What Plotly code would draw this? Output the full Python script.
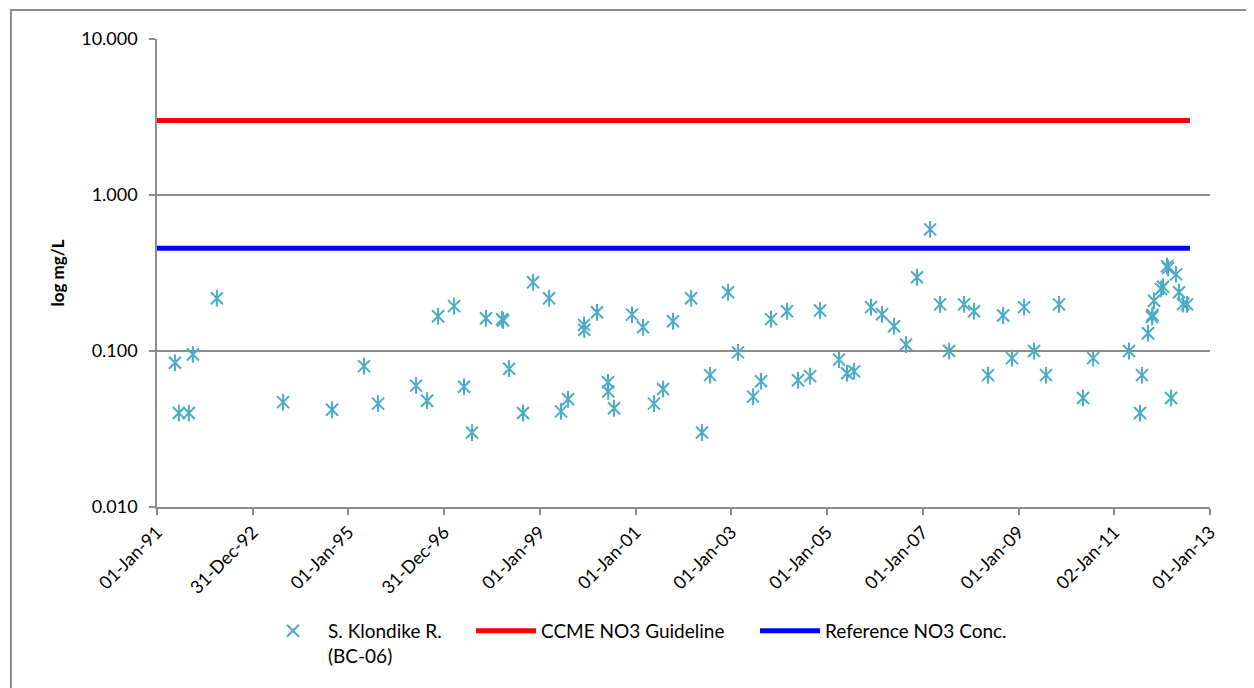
import plotly.graph_objects as go

# ---- data ----
sample_dates = [
    "1991-05-18", "1991-06-17", "1991-09-01", "1991-10-02", "1992-04-02",
    "1993-08-20", "1994-08-29", "1995-04-30", "1995-08-15", "1996-05-31",
    "1996-08-23", "1996-11-15", "1997-03-17", "1997-06-01", "1997-08-01",
    "1997-11-16", "1998-03-18", "1998-03-26", "1998-05-11", "1998-08-25",
    "1998-11-10", "1999-03-12", "1999-06-11", "1999-08-04", "1999-12-04",
    "1999-12-06", "2000-03-12", "2000-06-04", "2000-06-06", "2000-07-20",
    "2000-12-04", "2001-02-26", "2001-05-21", "2001-07-29", "2001-10-13",
    "2002-02-28", "2002-05-22", "2002-07-23", "2002-12-07", "2003-02-21",
    "2003-06-16", "2003-08-16", "2003-10-31", "2004-03-01", "2004-05-24",
    "2004-08-24", "2004-11-08", "2005-04-02", "2005-06-02", "2005-07-26",
    "2005-12-02", "2006-02-24", "2006-05-27", "2006-08-26", "2006-11-18",
    "2007-02-26", "2007-05-13", "2007-07-21", "2007-11-12", "2008-01-27",
    "2008-05-13", "2008-09-05", "2008-11-12", "2009-02-12", "2009-04-29",
    "2009-07-30", "2009-11-06", "2010-05-08", "2010-07-24", "2011-04-24",
    "2011-07-17", "2011-08-01", "2011-09-16", "2011-10-17", "2011-10-20",
    "2011-11-01", "2011-12-25", "2012-01-09", "2012-02-08", "2012-02-16",
    "2012-03-10", "2012-04-17", "2012-05-10", "2012-06-10", "2012-07-10",
]
no3_values = [
    0.084, 0.040, 0.040, 0.095, 0.218,
    0.047, 0.042, 0.080, 0.046, 0.060,
    0.048, 0.167, 0.194, 0.059, 0.030,
    0.162, 0.160, 0.157, 0.077, 0.040,
    0.276, 0.218, 0.041, 0.049, 0.147,
    0.137, 0.177, 0.063, 0.055, 0.043,
    0.171, 0.142, 0.046, 0.057, 0.155,
    0.218, 0.030, 0.070, 0.238, 0.098,
    0.051, 0.064, 0.160, 0.180, 0.065,
    0.069, 0.182, 0.088, 0.072, 0.074,
    0.191, 0.172, 0.144, 0.110, 0.297,
    0.602, 0.199, 0.100, 0.199, 0.180,
    0.070, 0.169, 0.090, 0.191, 0.100,
    0.070, 0.199, 0.050, 0.090, 0.100,
    0.040, 0.070, 0.130, 0.165, 0.170,
    0.210, 0.250, 0.258, 0.350, 0.340,
    0.050, 0.310, 0.238, 0.200, 0.199,
]

guide_dates = ["1991-01-01", "2007-11-12", "2012-08-01"]
ccme_guideline = [3.0, 3.0, 3.0]
reference_conc = [0.455, 0.455, 0.455]

series_names = ["S. Klondike R.<br>(BC-06)", "CCME NO3 Guideline", "Reference NO3 Conc."]

x_tick_vals = ["1991-01-01", "1992-12-31", "1995-01-01", "1996-12-31", "1999-01-01",
               "2001-01-01", "2003-01-01", "2005-01-01", "2007-01-01", "2009-01-01",
               "2011-01-02", "2013-01-01"]
x_tick_text = ["01-Jan-91", "31-Dec-92", "01-Jan-95", "31-Dec-96", "01-Jan-99",
               "01-Jan-01", "01-Jan-03", "01-Jan-05", "01-Jan-07", "01-Jan-09",
               "02-Jan-11", "01-Jan-13"]
y_tick_vals = [0.01, 0.1, 1, 10]
y_tick_text = ["0.010", "0.100", "1.000", "10.000"]

# ---- styles ----
FONT = "Lato, 'Open Sans', sans-serif"
AQUA = "#4BACC6"
GRID = "#8C8C8C"

fig = go.Figure()

# star marker = X + vertical bar (Excel star)
fig.add_trace(go.Scatter(
    x=sample_dates, y=no3_values, mode="markers", name=series_names[0],
    marker=dict(symbol="x-thin-open", size=12, color=AQUA,
                line=dict(color=AQUA, width=2)),
    legend="legend",
))
fig.add_trace(go.Scatter(
    x=sample_dates, y=no3_values, mode="markers", showlegend=False,
    marker=dict(symbol="line-ns-open", size=12, color=AQUA,
                line=dict(color=AQUA, width=2)),
    hoverinfo="skip",
))
fig.add_trace(go.Scatter(
    x=guide_dates, y=ccme_guideline, mode="lines", name=series_names[1],
    line=dict(color="#FF0000", width=5), legend="legend2",
))
fig.add_trace(go.Scatter(
    x=guide_dates, y=reference_conc, mode="lines", name=series_names[2],
    line=dict(color="#0000FF", width=5), legend="legend3",
))

legend_common = dict(
    orientation="h", y=-0.224, xanchor="left", yanchor="top",
    font=dict(family=FONT, size=19, color="#000000"),
    itemwidth=60, valign="top", bgcolor="rgba(0,0,0,0)",
)

fig.update_layout(
    width=1246, height=680,
    margin=dict(l=149, r=44, t=31, b=181, autoexpand=False),
    paper_bgcolor="white", plot_bgcolor="white",
    font=dict(family=FONT, size=18, color="#000000"),
    showlegend=True,
    legend=dict(x=0.0959, **legend_common),
    legend2=dict(x=0.2982, **legend_common),
    legend3=dict(x=0.5679, **legend_common),
    xaxis=dict(
        type="date", range=["1991-01-01", "2013-01-01"],
        tickmode="array", tickvals=x_tick_vals, ticktext=x_tick_text,
        tickangle=-45, ticks="outside", ticklen=6, tickcolor=GRID, tickwidth=1.5,
        showline=True, linecolor=GRID, linewidth=1.5,
        showgrid=False, zeroline=False,
        tickfont=dict(family=FONT, size=18, color="#000000"),
    ),
    yaxis=dict(
        type="log", range=[-2, 1],
        tickmode="array", tickvals=y_tick_vals, ticktext=y_tick_text,
        ticks="outside", ticklen=6, tickcolor=GRID, tickwidth=1.5,
        showline=True, linecolor=GRID, linewidth=1.5,
        showgrid=True, gridcolor=GRID, gridwidth=1.5,
        zeroline=False,
        tickfont=dict(family=FONT, size=18, color="#000000"),
        title=dict(text="<b>log mg/L</b>", font=dict(family=FONT, size=17, color="#000000"),
                   standoff=12),
        ticklabelstandoff=8,
    ),
    shapes=[dict(
        type="rect", xref="paper", yref="paper",
        x0=-0.1387, x1=1.06, y0=-0.45, y1=1.062,
        line=dict(color=GRID, width=2), fillcolor="rgba(0,0,0,0)", layer="below",
    )],
)

fig.write_html("out.html")
